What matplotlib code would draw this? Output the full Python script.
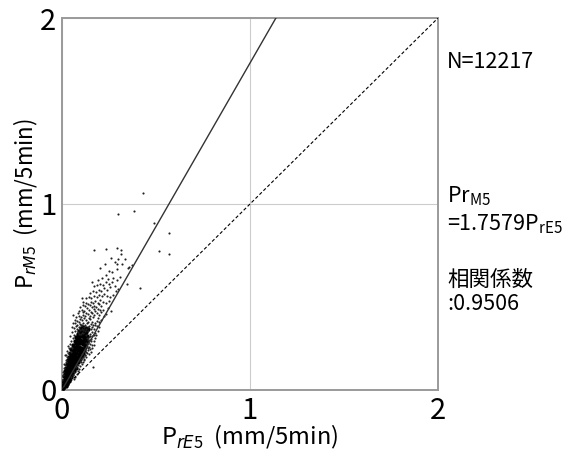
import matplotlib
matplotlib.use("Agg")
import matplotlib.pyplot as plt
import numpy as np

plt.rcParams['font.family'] = ['Noto Sans CJK JP', 'DejaVu Sans']
plt.rcParams['mathtext.fontset'] = 'custom'
plt.rcParams['mathtext.rm'] = 'Noto Sans CJK JP'
plt.rcParams['mathtext.it'] = 'DejaVu Sans:italic'

# ---- data ----
n_samples = 12217
slope = 1.7579
corr = 0.9506
axis_ticks = [0, 1, 2]

# dense (solid black) core of the cloud: (P_rE5, P_rM5)
core_pts = [(0.003,0.008),(0.008,0.012),(0.012,0.020),(0.005,0.025),(0.015,0.030),(0.020,0.022),
    (0.010,0.040),(0.018,0.045),(0.025,0.038),(0.006,0.050),(0.022,0.055),(0.030,0.048),(0.014,0.060),
    (0.028,0.065),(0.035,0.060),(0.020,0.072),(0.032,0.078),(0.040,0.072),(0.015,0.085),(0.027,0.088),
    (0.038,0.092),(0.045,0.085),(0.022,0.100),(0.033,0.104),(0.044,0.100),(0.052,0.095),(0.028,0.115),
    (0.040,0.118),(0.050,0.112),(0.058,0.108),(0.036,0.125),(0.047,0.130),(0.056,0.125),(0.064,0.120),
    (0.030,0.135),(0.042,0.142),(0.053,0.140),(0.062,0.138),(0.070,0.132),(0.036,0.152),(0.048,0.158),
    (0.058,0.155),(0.068,0.150),(0.076,0.146),(0.042,0.168),(0.054,0.172),(0.065,0.168),(0.074,0.165),
    (0.083,0.160),(0.047,0.185),(0.060,0.188),(0.070,0.184),(0.080,0.180),(0.090,0.175),(0.052,0.198),
    (0.065,0.202),(0.077,0.198),(0.088,0.194),(0.097,0.190),(0.060,0.215),(0.072,0.218),(0.084,0.214),
    (0.095,0.210),(0.105,0.206),(0.066,0.232),(0.078,0.236),(0.090,0.232),(0.101,0.228),(0.112,0.222),
    (0.074,0.250),(0.086,0.254),(0.098,0.250),(0.110,0.245),(0.120,0.240),(0.082,0.268),(0.095,0.270),
    (0.107,0.266),(0.118,0.262),(0.090,0.284),(0.104,0.288),(0.116,0.282),(0.127,0.278),
    (0.085,0.300),(0.098,0.305),(0.110,0.298),(0.122,0.294),(0.132,0.290),(0.092,0.318),(0.106,0.322),
    (0.118,0.316),(0.130,0.310),(0.100,0.335),(0.114,0.338),(0.126,0.332),(0.138,0.326),(0.072,0.285),
    (0.068,0.262),(0.056,0.240),(0.050,0.220),(0.045,0.200),(0.038,0.178),(0.032,0.160),(0.026,0.140),
    (0.020,0.120),(0.016,0.100),(0.010,0.075),(0.105,0.185),(0.112,0.200),(0.118,0.215),(0.125,0.230),
    (0.130,0.250),(0.135,0.265),(0.085,0.150),(0.095,0.165),(0.072,0.118),(0.062,0.100),(0.055,0.085),
    (0.048,0.068),(0.038,0.050),(0.028,0.030)]

# scattered dots around the core
low_pts = [(0.002,0.055),(0.008,0.078),(0.004,0.095),(0.062,0.058),(0.071,0.072),(0.079,0.088),
    (0.066,0.095),(0.085,0.102),(0.092,0.115),(0.075,0.122),(0.011,0.118),(0.017,0.132),(0.009,0.142),
    (0.098,0.128),(0.104,0.140),(0.086,0.136),(0.112,0.150),(0.024,0.148),(0.058,0.078),(0.050,0.068),
    (0.021,0.162),(0.028,0.175),(0.019,0.190),(0.033,0.198),(0.026,0.212),(0.038,0.225),(0.031,0.238),
    (0.044,0.246),(0.094,0.158),(0.102,0.168),(0.110,0.178),(0.118,0.164),(0.124,0.186),(0.108,0.196),
    (0.131,0.200),(0.116,0.210),(0.125,0.222),(0.138,0.214),(0.145,0.232),(0.132,0.238),(0.150,0.246),
    (0.160,0.225),(0.172,0.240),(0.048,0.205),(0.055,0.228),(0.142,0.195),(0.155,0.205),(0.166,0.125),
    (0.016,0.188),(0.140,0.250),(0.152,0.262),(0.158,0.240),(0.138,0.228),(0.148,0.218),(0.128,0.205),
    (0.120,0.190),(0.130,0.175),(0.115,0.160),(0.100,0.148)]

mid_pts = [(0.050,0.262),(0.058,0.278),(0.045,0.290),(0.064,0.296),(0.055,0.310),(0.070,0.318),
    (0.062,0.332),(0.076,0.342),(0.128,0.255),(0.136,0.268),(0.142,0.285),(0.130,0.296),(0.148,0.300),
    (0.156,0.276),(0.162,0.292),(0.168,0.262),(0.175,0.280),(0.182,0.298),(0.100,0.300),(0.112,0.306),
    (0.120,0.315),(0.086,0.310),(0.095,0.322),(0.106,0.330),(0.118,0.336),(0.130,0.326),(0.140,0.318),
    (0.152,0.330),(0.160,0.314),(0.170,0.326),(0.145,0.345),(0.088,0.340),(0.100,0.348),(0.125,0.350),
    (0.190,0.315),(0.198,0.340),(0.185,0.345),(0.164,0.348),(0.068,0.360),(0.080,0.372),(0.092,0.365),
    (0.104,0.378),(0.114,0.362),(0.126,0.374),(0.138,0.366),(0.150,0.380),(0.162,0.368),(0.174,0.360),
    (0.186,0.372),(0.198,0.364),(0.210,0.378),(0.075,0.392),(0.088,0.400),(0.100,0.394),(0.112,0.405),
    (0.124,0.396),(0.136,0.410),(0.148,0.398),(0.160,0.412),(0.172,0.402),(0.184,0.416),(0.196,0.404),
    (0.208,0.420),(0.222,0.398),(0.236,0.410),(0.090,0.425),(0.104,0.432),(0.118,0.426),(0.132,0.440),
    (0.146,0.430),(0.158,0.444),(0.170,0.436),(0.182,0.448),(0.194,0.438),(0.206,0.450),(0.220,0.432),
    (0.245,0.440),(0.262,0.425),(0.060,0.405),(0.105,0.493),(0.110,0.475),(0.053,0.340),(0.060,0.359),
    (0.082,0.352),(0.094,0.356),(0.108,0.350),(0.132,0.358),(0.156,0.356),(0.178,0.352),(0.070,0.378),
    (0.096,0.382),(0.118,0.388),(0.142,0.386),(0.166,0.390),(0.190,0.386),(0.084,0.412),(0.110,0.418),
    (0.128,0.416),(0.152,0.420),(0.176,0.426),(0.200,0.428),(0.098,0.446),(0.124,0.452),(0.148,0.456),
    (0.172,0.452),(0.196,0.460),(0.080,0.328),(0.092,0.302),(0.112,0.324),(0.136,0.336),(0.158,0.338),
    (0.178,0.308),(0.150,0.290),(0.134,0.282),(0.170,0.296),(0.146,0.270)]

high_pts = [(0.112,0.455),(0.126,0.468),(0.140,0.460),(0.152,0.474),(0.164,0.466),(0.178,0.480),
    (0.192,0.470),(0.204,0.484),(0.218,0.474),(0.232,0.466),(0.248,0.478),(0.128,0.492),(0.142,0.500),
    (0.156,0.494),(0.170,0.506),(0.184,0.498),(0.198,0.512),(0.212,0.504),(0.226,0.516),(0.240,0.506),
    (0.256,0.498),(0.272,0.512),(0.150,0.522),(0.165,0.534),(0.180,0.528),(0.196,0.540),(0.210,0.532),
    (0.225,0.548),(0.240,0.538),(0.255,0.552),(0.285,0.530),(0.300,0.545),(0.170,0.558),(0.186,0.566),
    (0.202,0.572),(0.218,0.562),(0.234,0.578),(0.250,0.568),(0.266,0.582),(0.280,0.560),(0.211,0.600),
    (0.270,0.600),(0.309,0.609),(0.347,0.568),(0.415,0.547),(0.190,0.590),(0.160,0.580),(0.245,0.595),
    (0.290,0.590)]

outlier_pts = [(0.232,0.620),(0.268,0.634),(0.291,0.649),(0.204,0.654),(0.230,0.679),(0.294,0.676),
    (0.351,0.658),(0.372,0.670),(0.300,0.703),(0.333,0.703),(0.358,0.660),(0.314,0.731),(0.172,0.754),
    (0.236,0.758),(0.293,0.763),(0.314,0.753),(0.514,0.749),(0.567,0.731),(0.567,0.846),(0.489,0.896),
    (0.300,0.948),(0.385,0.962),(0.432,1.061),(0.250,0.640),(0.280,0.690),(0.320,0.680),(0.260,0.710)]

# ---- figure ----
fig = plt.figure(figsize=(5.82, 4.55), dpi=100)
ax = fig.add_axes([0.1065, 0.1429, 0.6461, 0.8175])

core = np.array(core_pts)
ax.scatter(core[:, 0], core[:, 1], s=10, c='black', linewidths=0, zorder=3)
for g in [low_pts, mid_pts, high_pts, outlier_pts]:
    arr = np.array(g)
    ax.scatter(arr[:, 0], arr[:, 1], s=2.4, c='#222222', linewidths=0, zorder=3)

xs = np.array([0, 2])
ax.plot(xs, slope * xs, color='#333333', lw=1.0, zorder=4)
ax.plot(xs, xs, color='black', lw=0.8, dashes=(3, 2), zorder=4)

ax.set_xlim(0, 2)
ax.set_ylim(0, 2)
ax.set_xticks(axis_ticks)
ax.set_yticks(axis_ticks)
ax.set_xticklabels([str(t) for t in axis_ticks])
ax.set_yticklabels([str(t) for t in axis_ticks])
ax.tick_params(length=0, labelsize=21, pad=4)
for sp in ax.spines.values():
    sp.set_color('#9a9a9a')
    sp.set_linewidth(1.4)
ax.grid(True, color='#cccccc', lw=0.8)
ax.set_axisbelow(True)

fig.text(250/582, 1 - 437/455, r'P$_{\mathit{rE5}}$  (mm/5min)', fontsize=17,
         ha='center', va='center')
fig.text(26/582, 1 - 204/455, r'P$_{\mathit{rM5}}$  (mm/5min)', fontsize=16,
         ha='center', va='center', rotation=90)

tx = 447/582
fs = 15.5
fig.text(tx, 1 - 62/455, f'N={n_samples}', fontsize=fs, ha='left', va='center')
fig.text(tx, 1 - 196/455, r'Pr$_{\mathrm{M5}}$', fontsize=fs, ha='left', va='center')
fig.text(tx, 1 - 224/455, rf'={slope}P$_{{\mathrm{{rE5}}}}$', fontsize=fs, ha='left', va='center')
fig.text(tx, 1 - 280/455, '相関係数', fontsize=fs, ha='left', va='center')
fig.text(tx, 1 - 304/455, f':{corr}', fontsize=fs, ha='left', va='center')

fig.savefig('out.png', dpi=100)
